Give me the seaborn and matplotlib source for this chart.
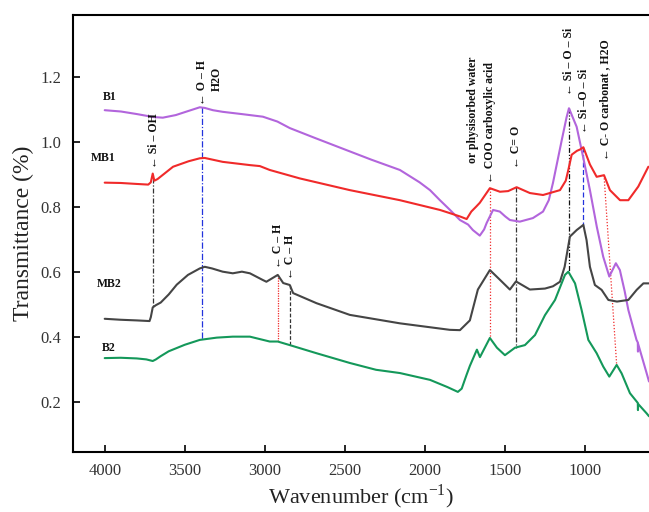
import matplotlib
matplotlib.use("Agg")
import matplotlib.pyplot as plt
import numpy as np
import seaborn as sns

# ---- data ----
b1_wn = [4000, 3899, 3798, 3697, 3637, 3556, 3475, 3406, 3375, 3324, 3263, 3143, 3012,
         2921, 2844, 2689, 2489, 2336, 2156, 2033, 1968, 1906, 1843, 1781, 1730, 1700,
         1657, 1630, 1614, 1574, 1532, 1498, 1469, 1407, 1325, 1262, 1226, 1200, 1145,
         1115, 1100, 1052, 1012, 969, 926, 886, 848, 823, 807, 782, 752, 729, 678,
         670, 669, 668, 615, 600]
b1_val = [1.097, 1.093, 1.085, 1.076, 1.074, 1.082, 1.095, 1.106, 1.104, 1.097, 1.092,
          1.085, 1.077, 1.062, 1.042, 1.012, 0.974, 0.945, 0.913, 0.875, 0.851, 0.820,
          0.790, 0.759, 0.745, 0.728, 0.711, 0.730, 0.750, 0.790, 0.785, 0.770, 0.759,
          0.754, 0.765, 0.785, 0.820, 0.873, 1.005, 1.075, 1.103, 1.046, 0.954, 0.851,
          0.738, 0.646, 0.585, 0.610, 0.626, 0.605, 0.540, 0.482, 0.390, 0.382, 0.354,
          0.378, 0.288, 0.262]

mb1_wn = [4000, 3900, 3800, 3728, 3712, 3700, 3690, 3670, 3573, 3475, 3406, 3375, 3263,
          3093, 3031, 2969, 2781, 2469, 2156, 1906, 1843, 1781, 1739, 1710, 1680, 1657,
          1594, 1531, 1480, 1427, 1344, 1262, 1156, 1120, 1104, 1083, 1050, 1031, 1010,
          969, 927, 881, 844, 781, 729, 667, 604]
mb1_val = [0.874, 0.873, 0.870, 0.868, 0.875, 0.902, 0.880, 0.885, 0.923, 0.940, 0.949,
           0.950, 0.938, 0.928, 0.925, 0.913, 0.887, 0.851, 0.820, 0.790, 0.780, 0.770,
           0.762, 0.785, 0.800, 0.812, 0.857, 0.846, 0.848, 0.860, 0.842, 0.836, 0.851,
           0.880, 0.913, 0.960, 0.972, 0.976, 0.983, 0.930, 0.892, 0.897, 0.851, 0.820,
           0.820, 0.862, 0.923]

mb2_wn = [4000, 3900, 3800, 3720, 3712, 3700, 3680, 3650, 3600, 3550, 3480, 3406, 3375,
          3330, 3263, 3200, 3143, 3093, 3011, 2990, 2919, 2885, 2844, 2823, 2677, 2469,
          2156, 1844, 1781, 1719, 1669, 1594, 1531, 1469, 1431, 1344, 1250, 1200, 1156,
          1127, 1094, 1052, 1010, 990, 969, 938, 896, 854, 800, 729, 677, 635, 600]
mb2_val = [0.455, 0.452, 0.450, 0.448, 0.460, 0.490, 0.497, 0.505, 0.530, 0.560, 0.590,
           0.610, 0.615, 0.610, 0.600, 0.595, 0.600, 0.595, 0.574, 0.569, 0.590, 0.565,
           0.559, 0.534, 0.503, 0.467, 0.441, 0.421, 0.420, 0.450, 0.545, 0.605, 0.575,
           0.545, 0.570, 0.545, 0.548, 0.555, 0.569, 0.615, 0.708, 0.728, 0.744, 0.697,
           0.615, 0.559, 0.544, 0.513, 0.508, 0.513, 0.544, 0.564, 0.564]

b2_wn = [4000, 3900, 3800, 3740, 3700, 3680, 3650, 3600, 3500, 3406, 3300, 3200, 3093,
         2969, 2919, 2885, 2844, 2677, 2469, 2305, 2156, 1968, 1860, 1794, 1770, 1740,
         1719, 1675, 1656, 1594, 1550, 1500, 1437, 1375, 1312, 1250, 1187, 1125, 1104,
         1062, 1021, 979, 927, 886, 848, 802, 771, 719, 670, 669, 668, 615, 600]
b2_val = [0.334, 0.335, 0.333, 0.330, 0.325, 0.330, 0.340, 0.355, 0.375, 0.390, 0.397,
          0.400, 0.400, 0.385, 0.385, 0.380, 0.374, 0.349, 0.319, 0.298, 0.288, 0.267,
          0.245, 0.230, 0.240, 0.282, 0.310, 0.360, 0.337, 0.396, 0.366, 0.343, 0.366,
          0.374, 0.405, 0.466, 0.513, 0.590, 0.600, 0.564, 0.482, 0.390, 0.349, 0.308,
          0.277, 0.313, 0.287, 0.226, 0.196, 0.174, 0.193, 0.164, 0.155]

series_names = ["B1", "MB1", "MB2", "B2"]
series_colors = ["#B265DC", "#F02A2A", "#454545", "#14985A"]
series_label_pos = [(3969, 1.138), (4009, 0.950), (3969, 0.562), (3975, 0.365)]

# guide lines: (wn_top, y_top, wn_bottom, y_bottom, colour, dashes)
guides = [
    (3700, 0.888, 3700, 0.490, "#333333", (0, (4, 1.5, 1, 1.5))),
    (3395, 1.106, 3395, 0.390, "#2233DD", (0, (5, 1.5, 1, 1.5))),
    (2919, 0.590, 2919, 0.385, "#F02A2A", (0, (1, 1))),
    (2844, 0.559, 2844, 0.374, "#333333", (0, (3, 1.5))),
    (1594, 0.857, 1594, 0.396, "#F02A2A", (0, (1, 1.5))),
    (1431, 0.860, 1431, 0.366, "#333333", (0, (4, 1.5, 1, 1.5))),
    (1100, 1.103, 1100, 0.600, "#111111", (0, (4, 1.5, 1, 1.5, 1, 1.5))),
    (1012, 0.983, 1012, 0.744, "#2233DD", (0, (4, 2))),
    (881, 0.897, 802, 0.313, "#F02A2A", (0, (1, 1.5))),
]

# band labels: (text, wn, y_bottom)
band_labels = [
    ("\u2190 Si \u2013 OH", 3690, 0.918),
    ("\u2190 O \u2013 H", 3395, 1.113),
    ("H2O", 3300, 1.155),
    ("\u2190 C \u2013 H", 2919, 0.612),
    ("\u2190 C \u2013 H", 2844, 0.577),
    ("or physisorbed water", 1700, 0.934),
    ("\u2190 COO carboxylic acid", 1594, 0.872),
    ("\u2190 C= O", 1433, 0.919),
    ("\u2190 Si \u2013 O \u2013 Si", 1100, 1.144),
    ("\u2190 Si \u2013O \u2013 Si", 1006, 1.027),
    ("\u2190 C- O carbonat , H2O", 875, 0.943),
]

x_ticks = [4000, 3500, 3000, 2500, 2000, 1500, 1000]
y_ticks = [0.2, 0.4, 0.6, 0.8, 1.0, 1.2]

sns.set_style("ticks")
plt.rcParams["font.family"] = ["Liberation Serif", "DejaVu Serif"]
plt.rcParams["mathtext.fontset"] = "custom"
plt.rcParams["mathtext.rm"] = "Liberation Serif"

fig = plt.figure(figsize=(6.49, 5.12), dpi=100)
ax = fig.add_axes([0.112, 0.1172, 0.888, 0.8535])

all_wn = [b1_wn, mb1_wn, mb2_wn, b2_wn]
all_val = [b1_val, mb1_val, mb2_val, b2_val]
for wn, val, col in zip(all_wn, all_val, series_colors):
    sns.lineplot(x=np.array(wn), y=np.array(val), sort=False, color=col,
                 linewidth=1.5, ax=ax, estimator=None)

for x0, y0, x1, y1, col, ls in guides:
    ax.plot([x0, x1], [y0, y1], color=col, linestyle=ls, linewidth=0.9, zorder=1)

for txt, wn, yb in band_labels:
    ax.text(wn, yb, txt, rotation=90, ha="center", va="bottom", fontsize=8.5,
            fontweight="bold", color="#111111")

for name, (wn, yv) in zip(series_names, series_label_pos):
    ax.text(wn, yv, name, ha="center", va="center", fontsize=8.5,
            fontweight="bold", color="#111111")

ax.set_xlim(4200, 600)
ax.set_ylim(0.045, 1.39)
ax.set_xticks(x_ticks)
ax.set_yticks(y_ticks)
ax.set_yticklabels([f"{v:.1f}" for v in y_ticks])
ax.tick_params(direction="in", length=5, width=1.4, labelsize=12,
               labelcolor="#333333", pad=8, top=False, right=False)
for side in ["left", "bottom", "top"]:
    ax.spines[side].set_linewidth(1.5)
    ax.spines[side].set_color("black")
ax.spines["right"].set_visible(False)

ax.set_xlabel(r"Wavenumber (cm$^{\mathregular{-1}}$)", fontsize=16, labelpad=2,
              color="#222222")
ax.set_ylabel("Transmittance (%)", fontsize=17, labelpad=5, color="#222222")

fig.savefig("out.png", dpi=100)
